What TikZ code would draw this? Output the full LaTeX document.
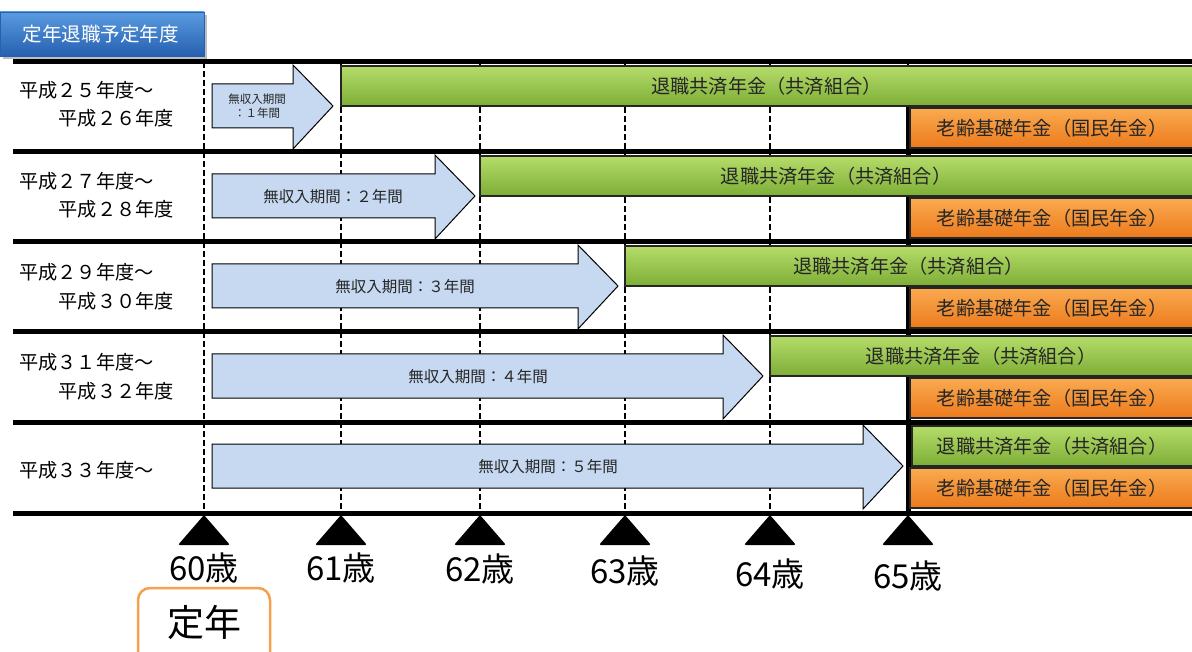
\documentclass[tikz,border=0pt]{standalone}
\usepackage{fontspec}
\setmainfont{Noto Sans CJK JP}
\usetikzlibrary{shadows}

\definecolor{gapblue}{HTML}{C6D9F1}
\definecolor{greentop}{HTML}{B5DC6A}
\definecolor{greenbot}{HTML}{7DAE36}
\definecolor{orangetop}{HTML}{FAAA50}
\definecolor{orangebot}{HTML}{EC7A1C}
\definecolor{titletop}{HTML}{5A9BE0}
\definecolor{titlebot}{HTML}{2660B0}
\definecolor{teinenedge}{HTML}{F5A04E}

\begin{document}
\begin{tikzpicture}[x=1pt, y=-1pt,
    rule/.style={line width=5pt},
    guide/.style={line width=1.8pt, dash pattern=on 6pt off 3pt},
    gap/.style={draw=black, line width=1pt, fill=gapblue},
    kyosai/.style={draw=black!85, line width=1.5pt, top color=greentop, bottom color=greenbot},
    kiso/.style={draw=black!85, line width=1.5pt, top color=orangetop, bottom color=orangebot},
    row/.style={font=\fontsize{19.2}{21}\selectfont, inner sep=0pt},
    bar/.style={font=\fontsize{19.2}{21}\selectfont, text=black!85, inner sep=0pt},
    gaptext/.style={font=\fontsize{15.5}{18}\selectfont, text=black!85, inner sep=0pt},
    age/.style={font=\fontsize{33}{36}\selectfont, inner sep=0pt}]
    \useasboundingbox (0,0) rectangle (1192,652);

    % Title
    \path[draw=titlebot, top color=titletop, bottom color=titlebot, drop shadow] (0,12) rectangle (204,56);
    \node[font=\fontsize{19.5}{21}\selectfont, text=white] (title) at (101,34) {定年退職予定年度};

    % Age guides
    \foreach \x in {204,341,480,625,770,908}
        \draw[guide] (\x,62) -- (\x,513);
    \draw[rule] (908,107) -- (908,513);

    % Rows: pensions and gaps
    \foreach \r/\gx/\tip in {0/341/333, 1/480/475, 2/625/618, 3/770/763, 4/912/903} {
        \pgfmathsetmacro\T{62+90*\r}
        \path[kyosai] (\gx,\T+4) rectangle (1194,\T+44);
        \path[kiso] (910,\T+46) rectangle (1194,\T+86);
        \node[bar] (g\r) at ({(\gx+1192)/2},\T+24) {退職共済年金（共済組合）};
        \node[bar] (o\r) at (1052,\T+66) {老齢基礎年金（国民年金）};
        \draw[gap] (212,\T+22) -- (\tip-40,\T+22) -- (\tip-40,\T+3) -- (\tip,\T+44)
            -- (\tip-40,\T+87) -- (\tip-40,\T+66) -- (212,\T+66) -- cycle;
    }

    % Gap labels
    \node[font=\fontsize{11.5}{14}\selectfont, text=black!85, align=center] (n1) at (257,106) {無収入期間\\：１年間};
    \node[gaptext] (n2) at (333,197) {無収入期間：２年間};
    \node[gaptext] (n3) at (405,287) {無収入期間：３年間};
    \node[gaptext] (n4) at (478,377) {無収入期間：４年間};
    \node[gaptext] (n5) at (548,467) {無収入期間：５年間};

    % Retirement years
    \node[row, anchor=west] (h25) at (19,90) {平成２５年度～};
    \node[row, anchor=east] (h26) at (174,118) {平成２６年度};
    \node[row, anchor=west] (h27) at (19,181) {平成２７年度～};
    \node[row, anchor=east] (h28) at (174,209) {平成２８年度};
    \node[row, anchor=west] (h29) at (19,272) {平成２９年度～};
    \node[row, anchor=east] (h30) at (174,301) {平成３０年度};
    \node[row, anchor=west] (h31) at (19,362) {平成３１年度～};
    \node[row, anchor=east] (h32) at (174,391) {平成３２年度};
    \node[row, anchor=west] (h33) at (19,470) {平成３３年度～};

    % Rules
    \foreach \y in {62,152,242,332,422,513}
        \draw[rule] (13,\y) -- (1192,\y);

    % Ages
    \foreach \x/\a/\y in {204/60/568, 341/61/568, 480/62/569, 625/63/571, 770/64/574, 908/65/576} {
        \fill[rounded corners=2pt] (\x,515) -- (\x+26,545) -- (\x-26,545) -- cycle;
        \node[age] (a\a) at (\x,\y) {\a 歳};
    }

    % Retirement
    \draw[teinenedge, line width=2.5pt, rounded corners=12pt] (138,652) -- (138,588) -- (270,588) -- (270,652);
    \node[font=\fontsize{37}{40}\selectfont, inner sep=0pt] (teinen) at (204,622) {定年};
\end{tikzpicture}
\end{document}
